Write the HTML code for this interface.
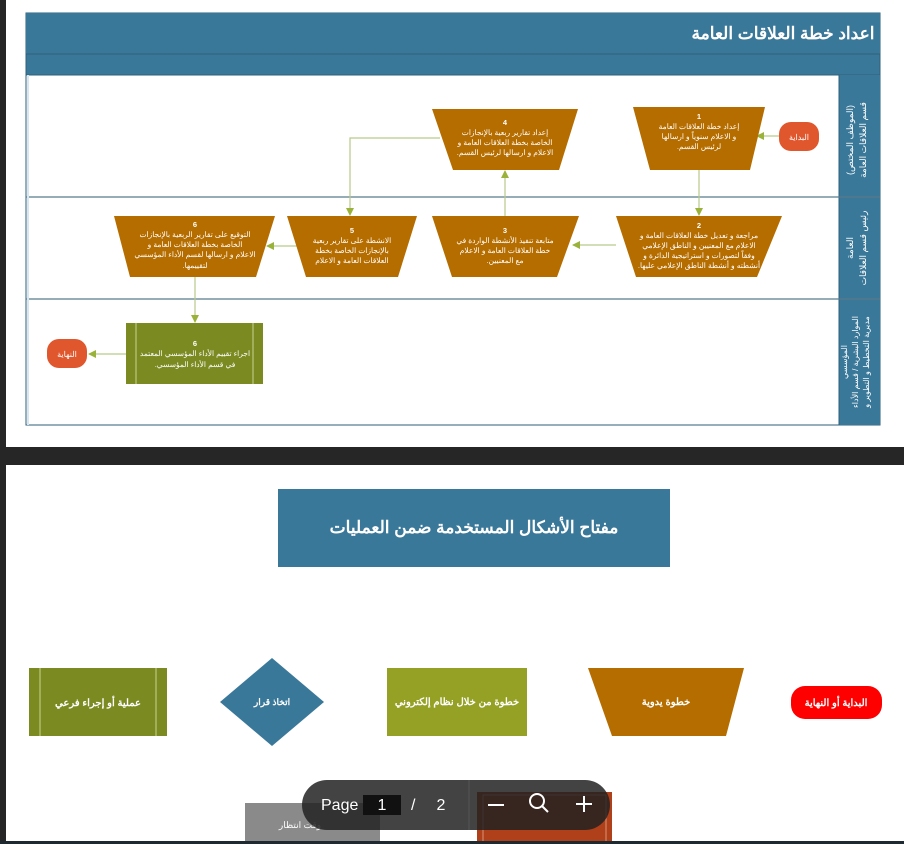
<!DOCTYPE html>
<html><head><meta charset="utf-8">
<style>
html,body{margin:0;padding:0;width:904px;height:844px;overflow:hidden;background:#262626}
svg{display:block}
text{font-family:"Liberation Sans","Noto Sans CJK SC",sans-serif}
</style></head><body>
<svg width="904" height="844" viewBox="0 0 904 844" xmlns="http://www.w3.org/2000/svg">
<defs>
<marker id="ar" markerWidth="8" markerHeight="8" refX="7" refY="4" orient="auto" markerUnits="userSpaceOnUse">
<path d="M0,0 L8,4 L0,8 z" fill="#9ab23a"/></marker>
</defs>
<rect x="0" y="0" width="904" height="844" fill="#262626"/>
<rect x="6" y="0" width="898" height="447" fill="#fff"/>
<rect x="6" y="465" width="898" height="377" fill="#fff"/>

<!-- frame -->
<rect x="26" y="13" width="854" height="412" fill="#fff" stroke="#2f5f7a" stroke-width="1"/>
<rect x="26" y="13" width="854" height="41" fill="#3a7899"/>
<rect x="26" y="54" width="854" height="21" fill="#3a7899" stroke="#2d5f7a" stroke-width="1"/>
<rect x="839" y="75" width="41" height="350" fill="#3a7899"/>
<line x1="839" y1="75" x2="839" y2="425" stroke="#2d5f7a"/>
<line x1="26" y1="197" x2="880" y2="197" stroke="#587a8c" stroke-width="1.2"/>
<line x1="26" y1="299" x2="880" y2="299" stroke="#587a8c" stroke-width="1.2"/>
<line x1="28" y1="75" x2="28" y2="425" stroke="#d8e6ef" stroke-width="2"/>
<text x="783" y="39" text-anchor="middle" fill="#fff" font-size="17" font-weight="bold" direction="rtl">اعداد خطة العلاقات العامة</text>

<g fill="#fff" font-size="9" text-anchor="middle" direction="rtl">
<text transform="translate(866,140) rotate(-90)">قسم العلاقات العامة</text>
<text transform="translate(853,140) rotate(-90)">(الموظف المختص)</text>
<text transform="translate(866,248) rotate(-90)">رئيس قسم العلاقات</text>
<text transform="translate(853,248) rotate(-90)">العامة</text>
</g>
<g fill="#fff" font-size="8" text-anchor="middle" direction="rtl">
<text transform="translate(869,362) rotate(-90)">مديرية التخطيط و التطوير و</text>
<text transform="translate(858,362) rotate(-90)">الموارد البشرية / قسم الأداء</text>
<text transform="translate(847,362) rotate(-90)">المؤسسي</text>
</g>

<!-- connectors -->
<g stroke="#b8c98a" stroke-width="1.2" fill="none" marker-end="url(#ar)">
<line x1="779" y1="136" x2="757" y2="136"/>
<line x1="699" y1="170" x2="699" y2="215"/>
<line x1="616" y1="245" x2="573" y2="245"/>
<line x1="505" y1="216" x2="505" y2="171"/>
<polyline points="440,138 350,138 350,215"/>
<line x1="297" y1="246" x2="267" y2="246"/>
<line x1="195" y1="277" x2="195" y2="322"/>
<line x1="126" y1="354" x2="89" y2="354"/>
</g>

<!-- nodes -->
<rect x="779" y="122" width="40" height="29" rx="12" fill="#e0562d"/>
<text x="799" y="140" fill="#fff" font-size="8" text-anchor="middle">البداية</text>
<rect x="47" y="339" width="40" height="29" rx="12" fill="#e0562d"/>
<text x="67" y="357" fill="#fff" font-size="8" text-anchor="middle">النهاية</text>

<g fill="#b56d00">
<polygon points="633,107 765,107 750,170 650,170"/>
<polygon points="432,109 578,109 559,170 453,170"/>
<polygon points="616,216 782,216 757,277 636,277"/>
<polygon points="432,216 579,216 557,277 452,277"/>
<polygon points="287,216 417,216 398,277 306,277"/>
<polygon points="114,216 275,216 256,277 130,277"/>
</g>
<rect x="126" y="323" width="137" height="61" fill="#7b8a21"/>
<line x1="136" y1="323" x2="136" y2="384" stroke="#dfe6b0" stroke-width="0.8"/>
<line x1="253" y1="323" x2="253" y2="384" stroke="#dfe6b0" stroke-width="0.8"/>

<g fill="#fff" font-size="7.5" text-anchor="middle" direction="rtl">
<text x="699" y="119" font-weight="bold">1</text>
<text x="699" y="129">إعداد خطة العلاقات العامة</text>
<text x="699" y="139">و الاعلام سنوياً و ارسالها</text>
<text x="699" y="149">لرئيس القسم.</text>
<text x="505" y="125" font-weight="bold">4</text>
<text x="505" y="135">إعداد تقارير ربعية بالإنجازات</text>
<text x="505" y="145">الخاصة بخطة العلاقات العامة و</text>
<text x="505" y="155">الاعلام و ارسالها لرئيس القسم.</text>
<text x="699" y="228" font-weight="bold">2</text>
<text x="699" y="238">مراجعة و تعديل خطة العلاقات العامة و</text>
<text x="699" y="248">الاعلام مع المعنيين و الناطق الإعلامي</text>
<text x="699" y="258">وفقاً لتصورات و استراتيجية الدائرة و</text>
<text x="699" y="268">أنشطته و أنشطة الناطق الإعلامي عليها.</text>
<text x="505" y="233" font-weight="bold">3</text>
<text x="505" y="243">متابعة تنفيذ الأنشطة الواردة في</text>
<text x="505" y="253">خطة العلاقات العامة و الاعلام</text>
<text x="505" y="263">مع المعنيين.</text>
<text x="352" y="233" font-weight="bold">5</text>
<text x="352" y="243">الانشطة على تقارير ربعية</text>
<text x="352" y="253">بالإنجازات الخاصة بخطة</text>
<text x="352" y="263">العلاقات العامة و الاعلام</text>
<text x="195" y="227" font-weight="bold">6</text>
<text x="195" y="237">التوقيع على تقارير الربعية بالإنجازات</text>
<text x="195" y="247">الخاصة بخطة العلاقات العامة و</text>
<text x="195" y="257">الاعلام و ارسالها لقسم الأداء المؤسسي</text>
<text x="195" y="268">لتقييمها.</text>
<text x="195" y="346" font-weight="bold">6</text>
<text x="195" y="356">اجراء تقييم الأداء المؤسسي المعتمد</text>
<text x="195" y="367">في قسم الأداء المؤسسي.</text>
</g>

<!-- legend -->
<rect x="278" y="489" width="392" height="78" fill="#3a7899"/>
<text x="474" y="533" fill="#fff" font-size="17" font-weight="bold" text-anchor="middle">مفتاح الأشكال المستخدمة ضمن العمليات</text>

<rect x="29" y="668" width="138" height="68" fill="#7b8a21"/>
<line x1="40" y1="668" x2="40" y2="736" stroke="#dfe6b0" stroke-width="0.8"/>
<line x1="156" y1="668" x2="156" y2="736" stroke="#dfe6b0" stroke-width="0.8"/>
<text x="98" y="706" fill="#fff" font-size="10" font-weight="bold" text-anchor="middle">عملية أو إجراء فرعي</text>
<polygon points="272,658 324,702 272,746 220,702" fill="#3a7899"/>
<text x="272" y="705" fill="#fff" font-size="9" font-weight="bold" text-anchor="middle">اتخاذ قرار</text>
<rect x="387" y="668" width="140" height="68" fill="#94a124"/>
<text x="457" y="705" fill="#fff" font-size="10" font-weight="bold" text-anchor="middle">خطوة من خلال نظام إلكتروني</text>
<polygon points="588,668 744,668 726,736 612,736" fill="#b56d00"/>
<text x="666" y="705" fill="#fff" font-size="10" font-weight="bold" text-anchor="middle">خطوة يدوية</text>
<rect x="791" y="686" width="91" height="33" rx="14" fill="#ff0000"/>
<text x="836" y="706" fill="#fff" font-size="10" font-weight="bold" text-anchor="middle">البداية أو النهاية</text>

<!-- partial bottom shapes -->
<rect x="245" y="803" width="135" height="41" fill="#8a8a8a"/>
<text x="300" y="828" fill="#fff" font-size="9" text-anchor="middle">وقت انتظار</text>
<rect x="477" y="792" width="135" height="52" fill="#b0401a"/>
<rect x="483" y="795" width="123" height="49" fill="none" stroke="#e8b9a0" stroke-width="0.7"/>

<!-- toolbar -->
<rect x="302" y="780" width="308" height="50" rx="25" fill="#222" fill-opacity="0.85"/>
<line x1="469" y1="780" x2="469" y2="830" stroke="#555"/>
<text x="321" y="810" fill="#fff" font-size="16">Page</text>
<rect x="363" y="795" width="38" height="20" fill="#111"/>
<text x="382" y="810" fill="#fff" font-size="16" text-anchor="middle">1</text>
<text x="411" y="810" fill="#fff" font-size="16">/</text>
<text x="441" y="810" fill="#fff" font-size="16" text-anchor="middle">2</text>
<line x1="488" y1="805" x2="504" y2="805" stroke="#fff" stroke-width="2"/>
<circle cx="537" cy="801" r="7" fill="none" stroke="#fff" stroke-width="2"/>
<line x1="542" y1="806" x2="548" y2="812" stroke="#fff" stroke-width="2"/>
<line x1="576" y1="804" x2="592" y2="804" stroke="#fff" stroke-width="2"/>
<line x1="584" y1="796" x2="584" y2="812" stroke="#fff" stroke-width="2"/>
<rect x="0" y="841" width="904" height="3" fill="#1e2a30"/>
</svg>
</body></html>
